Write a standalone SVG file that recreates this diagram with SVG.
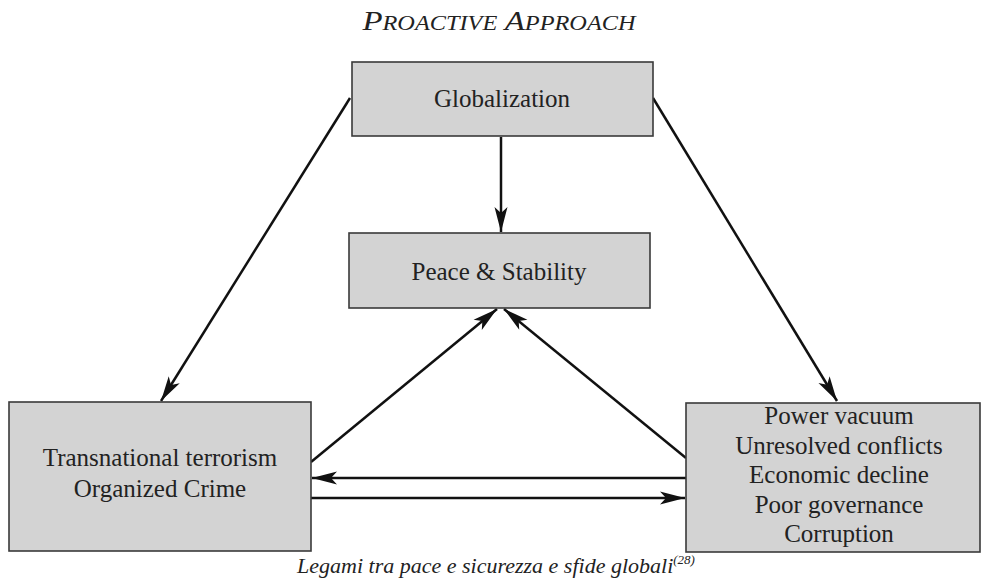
<svg xmlns="http://www.w3.org/2000/svg" width="983" height="588" viewBox="0 0 983 588">
  <style>
    .box { fill: #d3d3d3; stroke: #3a3a3a; stroke-width: 1.6; }
    .lbl { font-family: "Liberation Serif", "Times New Roman", serif; font-size: 25px; fill: #222; text-anchor: middle; }
    .title { font-family: "Liberation Serif", "Times New Roman", serif; font-style: italic; fill: #222; text-anchor: middle; }
    .cap { font-family: "Liberation Serif", "Times New Roman", serif; font-style: italic; font-size: 22px; fill: #222; text-anchor: middle; }
    .conn { stroke: #111; stroke-width: 2.5; fill: none; marker-end: url(#ah); }
  </style>
  <defs>
    <marker id="ah" markerUnits="userSpaceOnUse" viewBox="-26 -7 27 14" refX="0" refY="0" markerWidth="27" markerHeight="14" orient="auto">
      <path d="M0,0 L-25,-6.5 L-19,0 L-25,6.5 Z" fill="#111"/>
    </marker>
  </defs>
  <rect width="983" height="588" fill="#ffffff"/>

  <text class="title" x="499" y="30" textLength="273" lengthAdjust="spacingAndGlyphs"><tspan font-size="27">P</tspan><tspan font-size="20">ROACTIVE</tspan><tspan font-size="27"> A</tspan><tspan font-size="20">PPROACH</tspan></text>

  <g id="connectors">
    <line class="conn" x1="350" y1="98" x2="161" y2="401"/>
    <line class="conn" x1="653" y1="98" x2="837" y2="401"/>
    <line class="conn" x1="501" y1="137" x2="501" y2="232"/>
    <line class="conn" x1="311" y1="462" x2="497" y2="309"/>
    <line class="conn" x1="686" y1="458" x2="504" y2="309"/>
    <line class="conn" x1="686" y1="478" x2="312" y2="478"/>
    <line class="conn" x1="311" y1="498" x2="685" y2="498"/>
  </g>

  <g id="globalization">
    <rect class="box" x="352" y="62" width="301" height="74"/>
    <text class="lbl" x="502" y="107">Globalization</text>
  </g>

  <g id="peace">
    <rect class="box" x="349" y="233" width="301" height="75"/>
    <text class="lbl" x="499" y="280">Peace &amp; Stability</text>
  </g>

  <g id="terrorism">
    <rect class="box" x="9" y="402" width="302" height="149"/>
    <text class="lbl" x="160" y="466">Transnational terrorism</text>
    <text class="lbl" x="160" y="497">Organized Crime</text>
  </g>

  <g id="vacuum">
    <rect class="box" x="686" y="403" width="294" height="149"/>
    <text class="lbl" x="839" y="424">Power vacuum</text>
    <text class="lbl" x="839" y="454">Unresolved conflicts</text>
    <text class="lbl" x="839" y="483">Economic decline</text>
    <text class="lbl" x="839" y="513">Poor governance</text>
    <text class="lbl" x="839" y="542">Corruption</text>
  </g>

  <text class="cap" x="496" y="573">Legami tra pace e sicurezza e sfide globali<tspan font-size="13" dy="-9">(28)</tspan></text>
</svg>
